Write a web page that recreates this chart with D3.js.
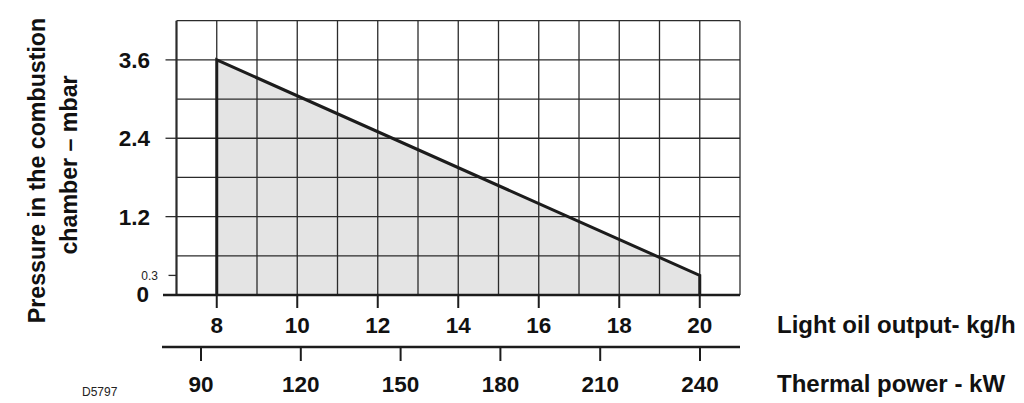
<!DOCTYPE html>
<html><head><meta charset="utf-8">
<script src="https://cdn.jsdelivr.net/npm/d3@7"></script>
<style>
html,body{margin:0;padding:0;background:#fff;}
svg{display:block;font-family:"Liberation Sans",Arial,sans-serif;}
</style></head>
<body>
<svg id="c" width="1024" height="403"></svg>
<script>
// Data
const oilOutput = [8, 20];              // kg/h
const pressure = [3.6, 0.3];            // mbar
const oilTicks = [8, 10, 12, 14, 16, 18, 20];
const powerTicks = [90, 120, 150, 180, 210, 240];
const pressureTicks = [3.6, 2.4, 1.2, 0];
const minorPressureTick = [0.3];
const yTitle = ["Pressure in the combustion", "chamber \u2013 mbar"];
const xTitleOil = "Light oil output- kg/h";
const xTitlePower = "Thermal power - kW";
const code = "D5797";

const svg = d3.select("#c");
const x = d3.scaleLinear().domain([7, 21]).range([176.5, 740]);
const y = d3.scaleLinear().domain([0, 4.2]).range([295, 20.7]);
const xp = d3.scaleLinear().domain([90, 240]).range([201, 700]);

const gridColor = "#2b2b2b";
// Area polygon
const pts = oilOutput.map((v, i) => [v, pressure[i]]);
const area = d3.area().x(d => x(d[0])).y0(y(0)).y1(d => y(d[1]));
svg.append("path").datum(pts).attr("d", area).attr("fill", "#e4e4e4");

// Grid
const g = svg.append("g");
g.selectAll("line.v").data(d3.range(7, 22, 1)).join("line")
  .attr("x1", d => x(d)).attr("x2", d => x(d))
  .attr("y1", y(4.2)).attr("y2", y(0))
  .attr("stroke", gridColor).attr("stroke-width", d => d === 7 ? 2.2 : 1.3);
g.selectAll("line.h").data(d3.range(0, 8).map(i => i * 0.6)).join("line")
  .attr("x1", x(7)).attr("x2", x(21))
  .attr("y1", d => y(d)).attr("y2", d => y(d))
  .attr("stroke", gridColor).attr("stroke-width", 1.3);

const line = d3.line().x(d => x(d[0])).y(d => y(d[1]));
const outline = [[oilOutput[0], 0], ...pts, [oilOutput[1], 0]];
svg.append("path").datum(outline).attr("d", line)
  .attr("fill", "none").attr("stroke", "#1c1c1c").attr("stroke-width", 3)
  .attr("stroke-linejoin", "miter");

// Y axis ticks and labels
svg.selectAll("line.yt").data(pressureTicks.filter(d => d > 0)).join("line")
  .attr("x1", x(7) - 11).attr("x2", x(7)).attr("y1", d => y(d)).attr("y2", d => y(d))
  .attr("stroke", gridColor).attr("stroke-width", 1.3);
svg.selectAll("line.ym").data(minorPressureTick).join("line")
  .attr("x1", x(7) - 8).attr("x2", x(7)).attr("y1", d => y(d)).attr("y2", d => y(d))
  .attr("stroke", gridColor).attr("stroke-width", 1.3);
svg.selectAll("text.yl").data(pressureTicks).join("text")
  .attr("x", d => d === 0 ? 149 : 150).attr("y", d => y(d) + (d === 0 ? 7 : 8.2))
  .attr("text-anchor", "end").attr("font-size", 22.5).attr("font-weight", "bold")
  .attr("fill", "#111").text(d => d === 0 ? "0" : d.toFixed(1));
svg.selectAll("text.ym").data(minorPressureTick).join("text")
  .attr("x", 158).attr("y", d => y(d) + 4.2)
  .attr("text-anchor", "end").attr("font-size", 12).attr("fill", "#222")
  .text(d => d.toFixed(1));

// Bottom zero line (kg/h axis)
svg.append("line").attr("x1", 163).attr("x2", x(21)).attr("y1", y(0)).attr("y2", y(0))
  .attr("stroke", "#1c1c1c").attr("stroke-width", 2.6);
svg.selectAll("line.xt").data(oilTicks).join("line")
  .attr("x1", d => x(d)).attr("x2", d => x(d)).attr("y1", y(0)).attr("y2", y(0) + 13)
  .attr("stroke", "#1c1c1c").attr("stroke-width", 2);
svg.selectAll("text.xl").data(oilTicks).join("text")
  .attr("x", d => x(d)).attr("y", 332.5).attr("text-anchor", "middle")
  .attr("font-size", 22.5).attr("font-weight", "bold").attr("fill", "#111").text(d => d);

// Thermal power axis
const pAxisY = 347;
svg.append("line").attr("x1", 162).attr("x2", 740).attr("y1", pAxisY).attr("y2", pAxisY)
  .attr("stroke", "#1c1c1c").attr("stroke-width", 2.6);
svg.selectAll("line.pt").data(powerTicks).join("line")
  .attr("x1", d => xp(d)).attr("x2", d => xp(d)).attr("y1", pAxisY).attr("y2", pAxisY + 14)
  .attr("stroke", "#1c1c1c").attr("stroke-width", 2);
svg.selectAll("text.pl").data(powerTicks).join("text")
  .attr("x", d => xp(d)).attr("y", 391.7).attr("text-anchor", "middle")
  .attr("font-size", 22.5).attr("font-weight", "bold").attr("fill", "#111").text(d => d);

// Axis titles
svg.append("text").attr("x", 777).attr("y", 332.7).attr("font-size", 24)
  .attr("font-weight", "bold").attr("fill", "#111").text(xTitleOil);
svg.append("text").attr("x", 777).attr("y", 391.7).attr("font-size", 24)
  .attr("font-weight", "bold").attr("fill", "#111").text(xTitlePower);

svg.append("text").attr("transform", "translate(45,170.5) rotate(-90)")
  .attr("text-anchor", "middle").attr("font-size", 23.2).attr("font-weight", "bold")
  .attr("fill", "#111").text(yTitle[0]);
svg.append("text").attr("transform", "translate(77,165) rotate(-90)")
  .attr("text-anchor", "middle").attr("font-size", 23.2).attr("font-weight", "bold")
  .attr("fill", "#111").text(yTitle[1]);

svg.append("text").attr("x", 82).attr("y", 395.5).attr("font-size", 12)
  .attr("fill", "#222").text(code);
</script>
</body></html>
